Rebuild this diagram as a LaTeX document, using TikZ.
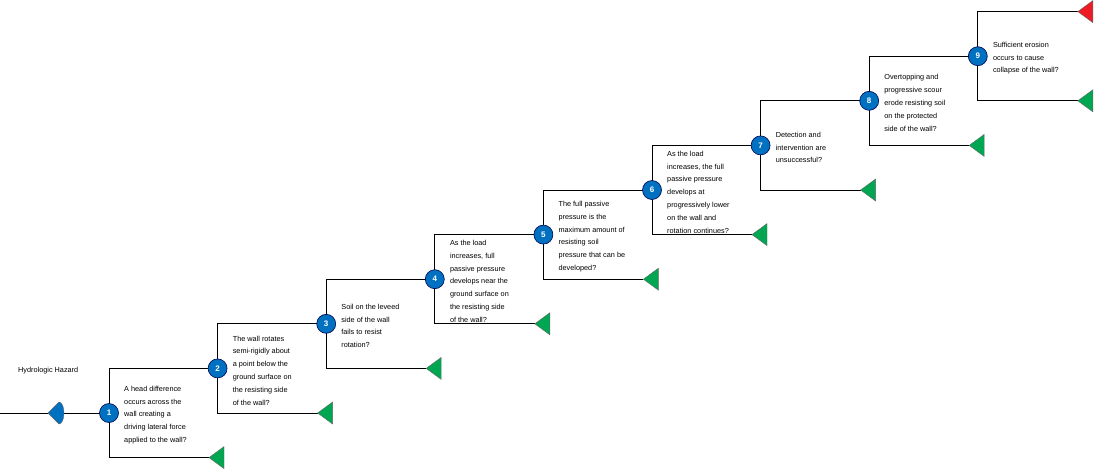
\documentclass[tikz,border=0pt]{standalone}
\usepackage{fontspec}
\setmainfont{Liberation Sans}
\usetikzlibrary{calc}
\begin{document}
\begin{tikzpicture}[x=1pt,y=-1pt,
  ev/.style={circle,draw=black!70!blue,line width=0.6pt,fill={rgb,255:red,0;green,112;blue,192},text=white,font=\bfseries\fontsize{8}{9}\selectfont,inner sep=0pt,minimum size=19pt},
  txt/.style={anchor=west,align=left,font=\fontsize{7.3}{12.8}\selectfont,inner sep=0pt},
  br/.style={line width=0.8pt,black},
  tri/.style={draw=black!60,line width=0.4pt,fill={rgb,255:red,0;green,166;blue,81}},
  redtri/.style={draw=black!60,line width=0.4pt,fill={rgb,255:red,237;green,28;blue,36}}]
\useasboundingbox (0,0) rectangle (1104,475);
\def\xs{108.6}\def\ys{44.6}
\foreach \k/\t in {1/{A head difference\\occurs across the\\wall creating a\\driving lateral force\\applied to the wall?},
  2/{The wall rotates\\semi-rigidly about\\a point below the\\ground surface on\\the resisting side\\of the wall?},
  3/{Soil on the leveed\\side of the wall\\fails to resist\\rotation?},
  4/{As the load\\increases, full\\passive pressure\\develops near the\\ground surface on\\the resisting side\\of the wall?},
  5/{The full passive\\pressure is the\\maximum amount of\\resisting soil\\pressure that can be\\developed?},
  6/{As the load\\increases, the full\\passive pressure\\develops at\\progressively lower\\on the wall and\\rotation continues?},
  7/{Detection and\\intervention are\\unsuccessful?},
  8/{Overtopping and\\progressive scour\\erode resisting soil\\on the protected\\side of the wall?},
  9/{Sufficient erosion\\occurs to cause\\collapse of the wall?}}{
  \pgfmathsetmacro\xx{109+(\k-1)*\xs}
  \pgfmathsetmacro\yy{413-(\k-1)*\ys}
  \coordinate (c\k) at (\xx,\yy);
  \coordinate (lo\k) at (\xx,\yy+\ys);
  \coordinate (le\k) at (\xx+100,\yy+\ys);
  \coordinate (up\k) at (\xx,\yy-\ys);
  \node[txt] (t\k) at (\xx+15,\yy+2) {\t};
}
% lower branches
\foreach \k in {1,...,9}{
  \draw[br] (c\k) -- (lo\k) -- (le\k);
  \path[tri] (le\k) -- ++(15,-11) -- ++(0,22) -- cycle;
}
% upper branches
\foreach \k [evaluate=\k as \n using int(\k+1)] in {1,...,8}{
  \draw[br] (c\k) -- (up\k) -- (c\n);
}
\coordinate (ue9) at ($(up9)+(100,0)$);
\draw[br] (c9) -- (up9) -- (ue9);
\path[redtri] (ue9) -- ++(15,-11) -- ++(0,22) -- cycle;
% input
\coordinate (in0) at (0,413);
\coordinate (haz) at (48,413);
\draw[br] (in0) -- (haz);
\draw[br] (62,413) -- (c1);
\path[draw=black!60,line width=0.4pt,fill={rgb,255:red,0;green,112;blue,192}]
  (haz) -- (59,402) arc[start angle=-90,end angle=90,x radius=5,y radius=11] -- cycle;
\foreach \k in {1,...,9}{\node[ev] (n\k) at (c\k) {\k};}
\node[txt] (hh) at (18,371) {Hydrologic Hazard};
\end{tikzpicture}
\end{document}
